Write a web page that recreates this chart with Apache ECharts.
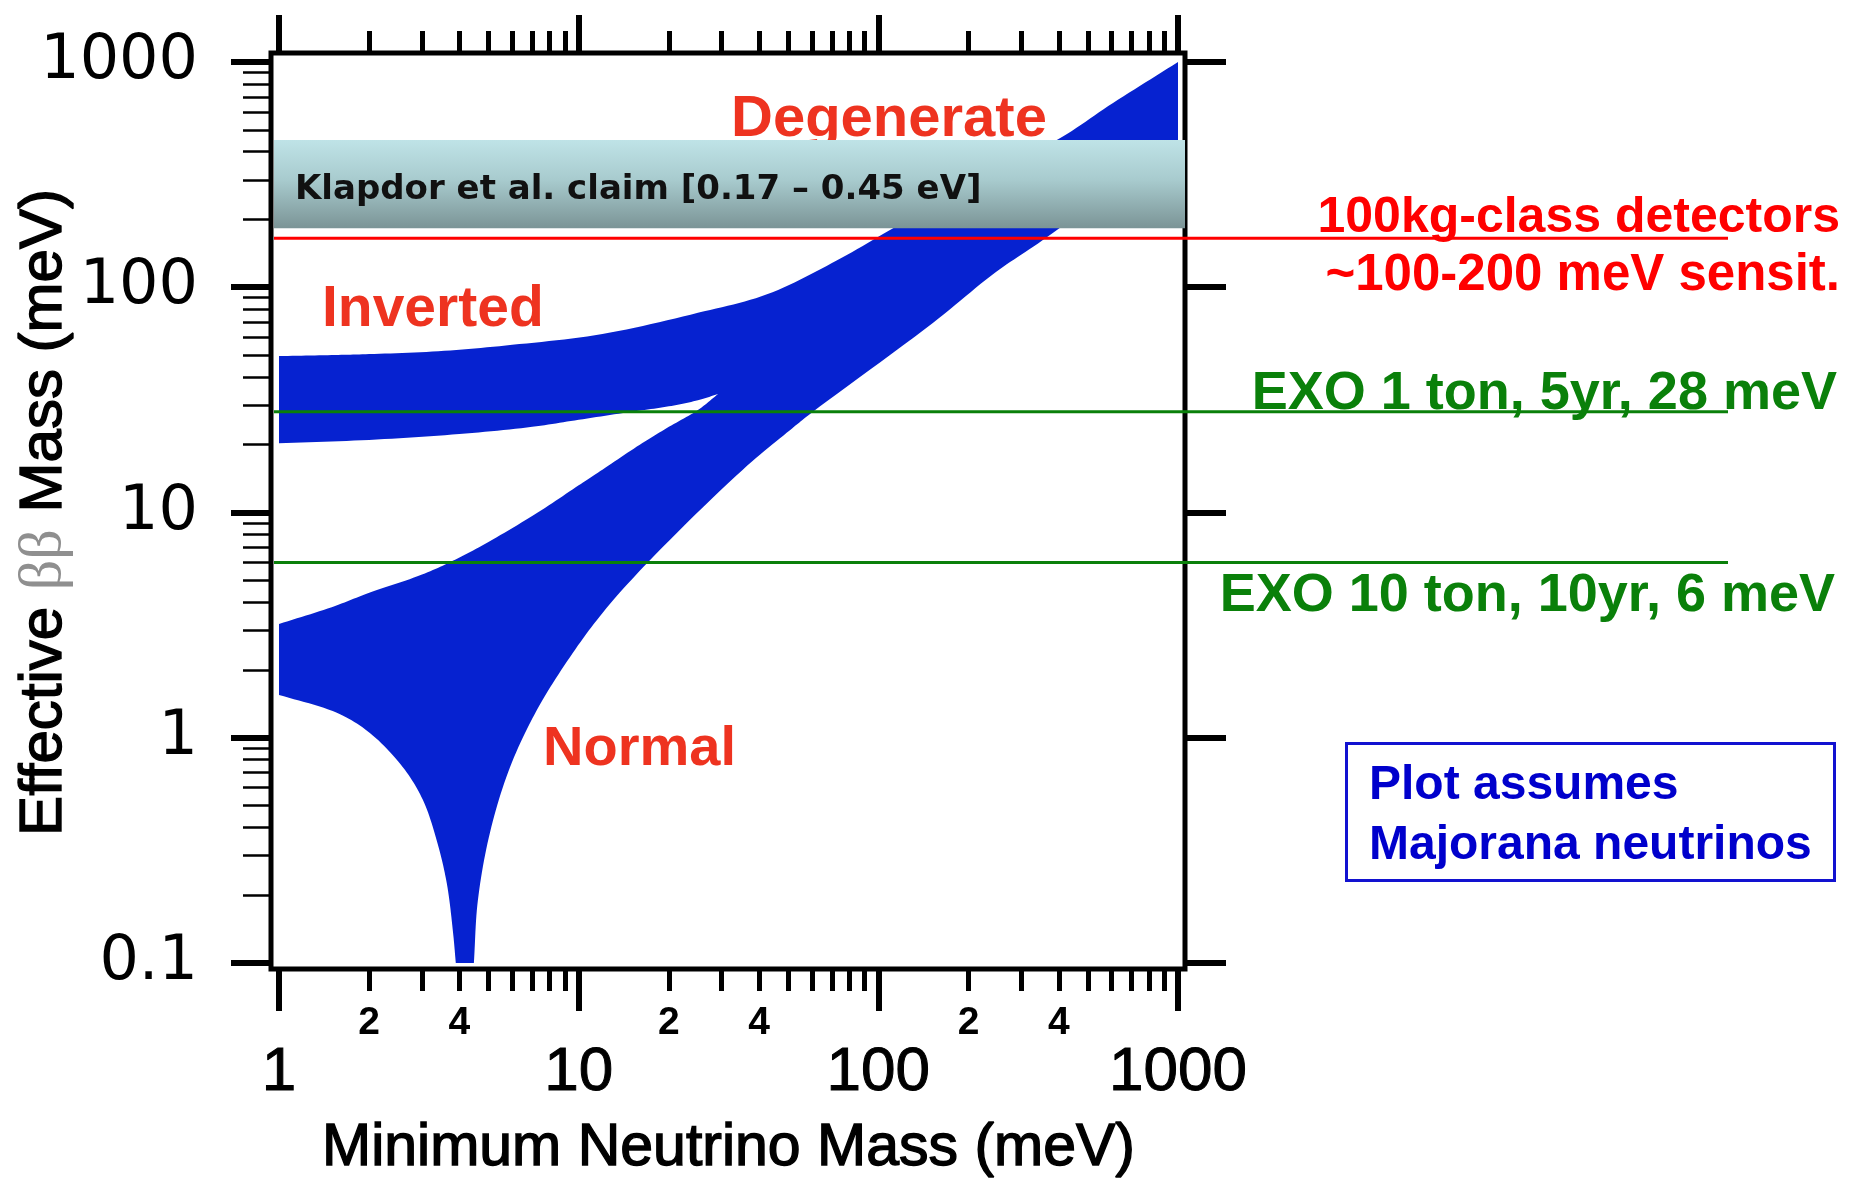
<!DOCTYPE html>
<html>
<head>
<meta charset="utf-8">
<script src="https://cdn.jsdelivr.net/npm/echarts@6/dist/echarts.min.js"></script>
<style>html,body{margin:0;padding:0;background:#fff;}#chart{width:1860px;height:1185px;}</style>
</head>
<body>
<div id="chart"></div>
<script>
// ---------------- data ----------------
const X_MAJOR_TICKS = [1, 10, 100, 1000];
const X_MAJOR_LABELS = ['1', '10', '100', '1000'];
const X_MINOR_TICKS = [2, 3, 4, 5, 6, 7, 8, 9, 20, 30, 40, 50, 60, 70, 80, 90, 200, 300, 400, 500, 600, 700, 800, 900];
const X_MINOR_LABEL_VALUES = [2, 4, 20, 40, 200, 400];
const X_MINOR_LABELS = ['2', '4', '2', '4', '2', '4'];
const Y_MAJOR_TICKS = [0.1, 1, 10, 100, 1000];
const Y_MAJOR_LABELS = ['0.1', '1', '10', '100', '1000'];
const Y_MINOR_TICKS = [0.2, 0.3, 0.4, 0.5, 0.6, 0.7, 0.8, 0.9, 2, 3, 4, 5, 6, 7, 8, 9, 20, 30, 40, 50, 60, 70, 80, 90, 200, 300, 400, 500, 600, 700, 800, 900];

// upper envelope of the allowed region (inverted + degenerate)
const TOP_X = [1, 1.5, 2, 3.4, 6, 12, 25, 42.5, 70, 112, 200, 394, 607, 1000];
const TOP_Y = [49.5, 50, 50.5, 52, 55.5, 62, 77, 93, 128, 183, 290, 450, 658, 1000];
// lower edge of the inverted band (until it meets the normal band)
const INV_LOW_X = [1, 2, 4, 7, 10, 15, 20, 25, 29.2];
const INV_LOW_Y = [20.3, 21, 22.3, 24, 25.8, 28, 29.6, 31.5, 33.6];
// upper edge of the normal band (until it meets the inverted band)
const NOR_UP_X = [1, 1.5, 2, 3, 3.8, 5, 7.3, 10, 12, 16, 20, 25, 29.2];
const NOR_UP_Y = [3.2, 3.8, 4.4, 5.3, 6.1, 7.4, 10, 13.2, 15.5, 20, 24, 28.5, 33.6];
// lower envelope, left of the cancellation cusp
const LOW_LEFT_X = [1, 1.56, 2.01, 2.59, 3.02, 3.36, 3.63, 3.81, 3.89];
const LOW_LEFT_Y = [1.55, 1.29, 1.05, 0.74, 0.53, 0.35, 0.226, 0.136, 0.1];
// lower envelope, right of the cusp
const LOW_RIGHT_X = [4.47, 4.61, 5.06, 5.9, 7.26, 9.35, 12.05, 17, 35.3, 50.7, 60.5, 152, 245, 354, 1000];
const LOW_RIGHT_Y = [0.1, 0.19, 0.38, 0.74, 1.33, 2.28, 3.6, 6, 15.5, 23.2, 28, 69.4, 116, 162, 440];

const KLAPDOR_RANGE = [183, 450];
const KLAPDOR_TEXT = 'Klapdor et al. claim [0.17 \u2013 0.45 eV]';
const SENSITIVITY_LINES = [165, 28, 6];
const SENSITIVITY_COLORS = ['#ff0000', '#0a800a', '#0a800a'];

// ---------------- styling ----------------
const FONT = 'Liberation Sans';
const BAND_COLOR = '#0622d0';
const REGION_RED = '#ee3320';
const DATA_RECT = { left: 279, top: 62, width: 899, height: 901 };

function findLabel(values, labels, v) {
  for (let i = 0; i < values.length; i++) {
    if (Math.abs(Math.log10(values[i]) - Math.log10(v)) < 1e-6) return labels[i];
  }
  return '';
}
// centripetal Catmull-Rom through pixel points (drawing only: smooth outline through the read points)
function smoothPath(pts, steps) {
  const n = pts.length, out = [];
  if (n < 3) return pts.slice();
  const dist = (a, b) => Math.max(Math.pow(Math.hypot(b[0] - a[0], b[1] - a[1]), 0.5), 1e-4);
  for (let i = 0; i < n - 1; i++) {
    const p1 = pts[i], p2 = pts[i + 1];
    const p0 = i > 0 ? pts[i - 1] : [2 * p1[0] - p2[0], 2 * p1[1] - p2[1]];
    const p3 = i + 2 < n ? pts[i + 2] : [2 * p2[0] - p1[0], 2 * p2[1] - p1[1]];
    const t0 = 0, t1 = t0 + dist(p0, p1), t2 = t1 + dist(p1, p2), t3 = t2 + dist(p2, p3);
    for (let s = 0; s < steps; s++) {
      const t = t1 + (t2 - t1) * s / steps;
      const lerp = (a, b, ta, tb) => [((tb - t) * a[0] + (t - ta) * b[0]) / (tb - ta), ((tb - t) * a[1] + (t - ta) * b[1]) / (tb - ta)];
      const A1 = lerp(p0, p1, t0, t1), A2 = lerp(p1, p2, t1, t2), A3 = lerp(p2, p3, t2, t3);
      const B1 = lerp(A1, A2, t0, t2), B2 = lerp(A2, A3, t1, t3);
      out.push(lerp(B1, B2, t1, t2));
    }
  }
  out.push(pts[n - 1]);
  return out;
}
function grid(rect, extra) { return Object.assign({ outerBoundsMode: 'none', containLabel: false }, rect, extra || {}); }
const LOG_X = { type: 'log', logBase: 10, min: 1, max: 1000 };
const LOG_Y = { type: 'log', logBase: 10, min: 0.1, max: 1000 };
const NO_LINE = { show: false };
const NO_SPLIT = { show: false };

const chart = echarts.init(document.getElementById('chart'), null, { renderer: 'canvas' });

const option = {
  animation: false,
  backgroundColor: '#fff',
  textStyle: { fontFamily: FONT },
  grid: [
    grid(DATA_RECT),
    grid(DATA_RECT),
    grid(DATA_RECT),
    grid(DATA_RECT),
    grid({ left: 271, top: 53, width: 914, height: 916 }, { show: true, borderColor: '#000', borderWidth: 5, backgroundColor: 'transparent', z: 3 }),
    grid({ left: 274, top: 62, width: 911, height: 901 }),
    grid({ left: 274, top: 62, width: 1454, height: 901 })
  ],
  xAxis: [
    Object.assign({}, LOG_X, {
      gridIndex: 0, position: 'bottom', offset: 6,
      axisLine: NO_LINE, splitLine: NO_SPLIT,
      axisTick: { show: true, customValues: X_MAJOR_TICKS, length: 42, lineStyle: { color: '#000', width: 6 } },
      axisLabel: { show: true, customValues: X_MAJOR_TICKS, margin: 73, fontSize: 62, fontFamily: FONT, color: '#000', hideOverlap: false,
        textBorderColor: '#000', textBorderWidth: 1,
        formatter: v => findLabel(X_MAJOR_TICKS, X_MAJOR_LABELS, v) },
      name: 'Minimum Neutrino Mass (meV)', nameLocation: 'middle', nameGap: 150, nameMoveOverlap: false,
      nameTextStyle: { fontSize: 59, fontFamily: FONT, color: '#000', textBorderColor: '#000', textBorderWidth: 1.4 }
    }),
    Object.assign({}, LOG_X, {
      gridIndex: 1, position: 'bottom', offset: 6,
      axisLine: NO_LINE, splitLine: NO_SPLIT,
      axisTick: { show: true, customValues: X_MINOR_TICKS, length: 22, lineStyle: { color: '#000', width: 5 } },
      axisLabel: { show: true, customValues: X_MINOR_LABEL_VALUES, margin: 35, fontSize: 39, fontWeight: 'bold', fontFamily: FONT, color: '#000', hideOverlap: false,
        formatter: v => findLabel(X_MINOR_LABEL_VALUES, X_MINOR_LABELS, v) }
    }),
    Object.assign({}, LOG_X, {
      gridIndex: 2, position: 'top', offset: 9,
      axisLine: NO_LINE, splitLine: NO_SPLIT, axisLabel: { show: false },
      axisTick: { show: true, customValues: X_MAJOR_TICKS, length: 38, lineStyle: { color: '#000', width: 6 } }
    }),
    Object.assign({}, LOG_X, {
      gridIndex: 3, position: 'top', offset: 9,
      axisLine: NO_LINE, splitLine: NO_SPLIT, axisLabel: { show: false },
      axisTick: { show: true, customValues: X_MINOR_TICKS, length: 22, lineStyle: { color: '#000', width: 5 } }
    }),
    { type: 'value', gridIndex: 4, show: false, min: 0, max: 1 },
    { type: 'value', gridIndex: 5, show: false, min: 0, max: 1 },
    { type: 'value', gridIndex: 6, show: false, min: 0, max: 1 }
  ],
  yAxis: [
    Object.assign({}, LOG_Y, {
      gridIndex: 0, position: 'left', offset: 8,
      axisLine: NO_LINE, splitLine: NO_SPLIT,
      axisTick: { show: true, customValues: Y_MAJOR_TICKS, length: 40, lineStyle: { color: '#000', width: 6 } },
      axisLabel: { show: true, customValues: Y_MAJOR_TICKS, margin: 73, fontSize: 62, fontFamily: 'DejaVu Sans', color: '#000', hideOverlap: false,
        formatter: v => findLabel(Y_MAJOR_TICKS, Y_MAJOR_LABELS, v) },
      name: '{a|Effective }{b|\u03b2\u03b2}{a| Mass (meV)}', nameLocation: 'middle', nameRotate: 90, nameGap: 197, nameMoveOverlap: false,
      nameTextStyle: { rich: {
        a: { fontSize: 60, fontFamily: FONT, color: '#000', textBorderColor: '#000', textBorderWidth: 1.4 },
        b: { fontSize: 60, fontFamily: 'Liberation Serif', color: '#8f8f8f' }
      } }
    }),
    Object.assign({}, LOG_Y, {
      gridIndex: 1, position: 'left', offset: 8,
      axisLine: NO_LINE, splitLine: NO_SPLIT, axisLabel: { show: false },
      axisTick: { show: true, customValues: Y_MINOR_TICKS, length: 28, lineStyle: { color: '#000', width: 2.5 } }
    }),
    Object.assign({}, LOG_Y, {
      gridIndex: 2, position: 'right', offset: 8,
      axisLine: NO_LINE, splitLine: NO_SPLIT, axisLabel: { show: false },
      axisTick: { show: true, customValues: Y_MAJOR_TICKS, length: 40, lineStyle: { color: '#000', width: 6 } }
    }),
    Object.assign({}, LOG_Y, { gridIndex: 3, show: false }),
    { type: 'value', gridIndex: 4, show: false, min: 0, max: 1 },
    Object.assign({}, LOG_Y, { gridIndex: 5, show: false }),
    Object.assign({}, LOG_Y, { gridIndex: 6, show: false })
  ],
  series: [
    {
      type: 'custom', name: 'Allowed region', xAxisIndex: 0, yAxisIndex: 0, z: 2,
      data: [[TOP_X[0], TOP_Y[0]]],
      renderItem: function (params, api) {
        const px = (xs, ys, rev) => {
          const p = xs.map((x, i) => api.coord([x, ys[i]]));
          return rev ? p.reverse() : p;
        };
        const env = smoothPath(px(TOP_X, TOP_Y), 12)
          .concat(smoothPath(px(LOW_RIGHT_X, LOW_RIGHT_Y, true), 12))
          .concat(smoothPath(px(LOW_LEFT_X, LOW_LEFT_Y, true), 12));
        const wedge = smoothPath(px(NOR_UP_X, NOR_UP_Y), 12)
          .concat(smoothPath(px(INV_LOW_X, INV_LOW_Y, true), 12));
        return {
          type: 'group',
          children: [
            { type: 'polygon', shape: { points: env }, style: { fill: BAND_COLOR } },
            { type: 'polygon', shape: { points: wedge }, style: { fill: '#ffffff' } }
          ]
        };
      }
    },
    {
      type: 'custom', name: 'Klapdor claim', xAxisIndex: 5, yAxisIndex: 5, z: 10,
      data: [[0, KLAPDOR_RANGE[0], KLAPDOR_RANGE[1]]],
      renderItem: function (params, api) {
        const cs = params.coordSys;
        const yTop = api.coord([0, api.value(2)])[1];
        const yBot = api.coord([0, api.value(1)])[1];
        return {
          type: 'group',
          children: [
            { type: 'rect', shape: { x: cs.x, y: yTop, width: cs.width, height: yBot - yTop },
              style: { fill: new echarts.graphic.LinearGradient(0, 0, 0, 1, [
                { offset: 0, color: '#bfe3e7' }, { offset: 0.45, color: '#a8cbce' }, { offset: 1, color: '#7b9496' }]) } },
            { type: 'text', x: cs.x + 21, y: (yTop + yBot) / 2 + 6,
              style: { text: KLAPDOR_TEXT, font: 'bold 34px "DejaVu Sans"', fill: '#111', align: 'left', verticalAlign: 'middle' } }
          ]
        };
      }
    },
    {
      type: 'custom', name: 'Sensitivities', xAxisIndex: 6, yAxisIndex: 6, z: 11,
      data: SENSITIVITY_LINES.map(v => [0, v]),
      renderItem: function (params, api) {
        const cs = params.coordSys;
        const y = api.coord([0, api.value(1)])[1];
        return { type: 'line', shape: { x1: cs.x, y1: y, x2: cs.x + cs.width, y2: y },
          style: { stroke: SENSITIVITY_COLORS[params.dataIndex], lineWidth: 3 } };
      }
    }
  ],
  graphic: [
    { type: 'text', z: 5, x: 731, y: 120, style: { text: 'Degenerate', font: 'bold 58px "Liberation Sans"', fill: REGION_RED, align: 'left', verticalAlign: 'middle' } },
    { type: 'text', z: 5, x: 322, y: 310, style: { text: 'Inverted', font: 'bold 57px "Liberation Sans"', fill: REGION_RED, align: 'left', verticalAlign: 'middle' } },
    { type: 'text', z: 5, x: 543, y: 750, style: { text: 'Normal', font: 'bold 56px "Liberation Sans"', fill: REGION_RED, align: 'left', verticalAlign: 'middle' } },
    { type: 'text', z: 20, x: 1840, y: 218, style: { text: '100kg-class detectors', font: 'bold 50px "Liberation Sans"', fill: '#ff0000', align: 'right', verticalAlign: 'middle' } },
    { type: 'text', z: 20, x: 1840, y: 276, style: { text: '~100-200 meV sensit.', font: 'bold 51px "Liberation Sans"', fill: '#ff0000', align: 'right', verticalAlign: 'middle' } },
    { type: 'text', z: 20, x: 1837, y: 394, style: { text: 'EXO 1 ton, 5yr, 28 meV', font: 'bold 54px "Liberation Sans"', fill: '#0a800a', align: 'right', verticalAlign: 'middle' } },
    { type: 'text', z: 20, x: 1835, y: 596, style: { text: 'EXO 10 ton, 10yr, 6 meV', font: 'bold 54px "Liberation Sans"', fill: '#0a800a', align: 'right', verticalAlign: 'middle' } },
    { type: 'rect', z: 20, shape: { x: 1346.5, y: 743.5, width: 488, height: 137 }, style: { fill: 'none', stroke: '#1212d0', lineWidth: 3 } },
    { type: 'text', z: 20, x: 1369, y: 786, style: { text: 'Plot assumes', font: 'bold 48px "Liberation Sans"', fill: '#0000cc', align: 'left', verticalAlign: 'middle' } },
    { type: 'text', z: 20, x: 1369, y: 846, style: { text: 'Majorana neutrinos', font: 'bold 48px "Liberation Sans"', fill: '#0000cc', align: 'left', verticalAlign: 'middle' } }
  ]
};
chart.setOption(option);
</script>
</body>
</html>
